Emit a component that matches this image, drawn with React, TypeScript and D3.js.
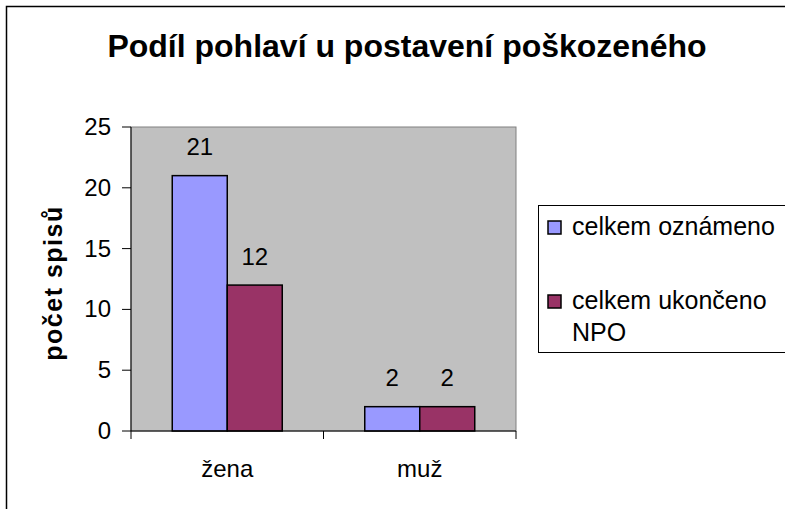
import React, { useEffect, useRef } from "react";
import * as d3 from "d3";

const categories = ["žena", "muž"];
const seriesNames = ["celkem oznámeno", "celkem ukončeno NPO"];
const oznameno = [21, 2];
const ukonceno = [12, 2];
const yTicks = [0, 5, 10, 15, 20, 25];
const colors = ["#9999FF", "#993366"];

const App = () => {
  const ref = useRef(null);

  useEffect(() => {
    const svg = d3.select(ref.current);
    svg.selectAll("*").remove();
    const width = 785;
    const height = 509;
    const font = "Liberation Sans, Arial, sans-serif";

    svg.append("rect").attr("width", width).attr("height", height).attr("fill", "#fff");
    // outer chart border (runs off the right and bottom edge)
    svg.append("rect").attr("x", 6.5).attr("y", 6.5).attr("width", 820).attr("height", 540)
      .attr("fill", "none").attr("stroke", "#000").attr("stroke-width", 1.5);

    const plot = { left: 131, top: 127, right: 516, bottom: 431 };
    const x0 = d3.scaleBand().domain(categories).range([plot.left, plot.right]);
    const y = d3.scaleLinear().domain([0, 25]).range([plot.bottom, plot.top]);
    const barW = x0.bandwidth() / 3.5;

    svg.append("rect").attr("x", plot.left).attr("y", plot.top)
      .attr("width", plot.right - plot.left).attr("height", plot.bottom - plot.top)
      .attr("fill", "#C0C0C0").attr("stroke", "#808080").attr("stroke-width", 1);

    const series = [oznameno, ukonceno];
    series.forEach((vals, s) => {
      categories.forEach((c, i) => {
        const bx = x0(c) + 0.75 * barW + s * barW;
        svg.append("rect").attr("x", bx).attr("y", y(vals[i]))
          .attr("width", barW).attr("height", y(0) - y(vals[i]))
          .attr("fill", colors[s]).attr("stroke", "#000").attr("stroke-width", 1.5);
        svg.append("text").attr("x", bx + barW / 2).attr("y", y(vals[i]) - 20.5)
          .attr("text-anchor", "middle").attr("font-family", font).attr("font-size", 24)
          .text(vals[i]);
      });
    });

    // y axis
    svg.append("line").attr("x1", plot.left).attr("x2", plot.left).attr("y1", plot.top).attr("y2", plot.bottom)
      .attr("stroke", "#000");
    yTicks.forEach((t) => {
      svg.append("line").attr("x1", plot.left - 9).attr("x2", plot.left).attr("y1", y(t)).attr("y2", y(t))
        .attr("stroke", "#000");
      svg.append("text").attr("x", plot.left - 20).attr("y", y(t) + 8).attr("text-anchor", "end")
        .attr("font-family", font).attr("font-size", 24).text(t);
    });

    // x axis
    svg.append("line").attr("x1", plot.left).attr("x2", plot.right).attr("y1", plot.bottom).attr("y2", plot.bottom)
      .attr("stroke", "#000");
    [plot.left, x0(categories[1]), plot.right].forEach((tx) => {
      svg.append("line").attr("x1", tx).attr("x2", tx).attr("y1", plot.bottom).attr("y2", plot.bottom + 8)
        .attr("stroke", "#000");
    });
    categories.forEach((c) => {
      svg.append("text").attr("x", x0(c) + x0.bandwidth() / 2).attr("y", 477).attr("text-anchor", "middle")
        .attr("font-family", font).attr("font-size", 24).text(c);
    });

    svg.append("text").attr("x", 407).attr("y", 57).attr("text-anchor", "middle")
      .attr("font-family", font).attr("font-size", 32).attr("font-weight", "bold")
      .text("Podíl pohlaví u postavení poškozeného");

    svg.append("text").attr("transform", "translate(62,283) rotate(-90)").attr("text-anchor", "middle")
      .attr("font-family", font).attr("font-size", 25).attr("font-weight", "bold")
      .attr("letter-spacing", 1.5).text("počet spisů");

    // legend
    svg.append("rect").attr("x", 538.5).attr("y", 205.5).attr("width", 300).attr("height", 147)
      .attr("fill", "#fff").attr("stroke", "#000").attr("stroke-width", 1);
    const legendY = [228, 302];
    seriesNames.forEach((name, i) => {
      svg.append("rect").attr("x", 548).attr("y", legendY[i] - 7).attr("width", 13).attr("height", 13)
        .attr("fill", colors[i]).attr("stroke", "#000").attr("stroke-width", 1.5);
      const words = i === 1 ? ["celkem ukončeno", "NPO"] : [name];
      words.forEach((w, j) => {
        svg.append("text").attr("x", 572).attr("y", legendY[i] + 7 + j * 32)
          .attr("font-family", font).attr("font-size", 25).text(w);
      });
    });
  }, []);

  return <svg ref={ref} width={785} height={509} style={{ position: "absolute", left: 0, top: 0 }}></svg>;
};

export default App;
